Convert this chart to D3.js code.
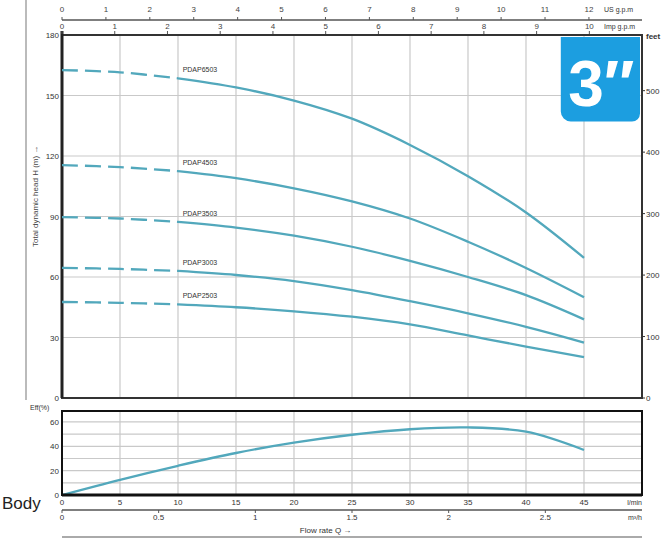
<!DOCTYPE html>
<html><head><meta charset="utf-8">
<script src="https://cdn.jsdelivr.net/npm/d3@7"></script>
<style>body{margin:0;background:#fff}svg{display:block}text{font-family:"Liberation Sans",Arial,sans-serif}</style>
</head><body>
<svg id="c" width="671" height="541"></svg>
<script>
// ---- data ----
const flow = [0, 5, 10, 15, 20, 25, 30, 35, 40, 45];           // l/min
const seriesNames = ["PDAP6503", "PDAP4503", "PDAP3503", "PDAP3003", "PDAP2503"];
const head1 = [162.6, 161.5, 158.5, 154, 147.5, 138.5, 125.5, 110, 92, 69.5];
const head2 = [115.5, 114.5, 112.5, 109, 104, 97.5, 89, 77.5, 64.5, 50];
const head3 = [89.7, 89, 87.3, 84.5, 80.5, 75, 68, 60, 51, 39];
const head4 = [64.5, 64, 63, 61, 58, 53.5, 48, 42, 35.3, 27.5];
const head5 = [47.6, 47.2, 46.4, 45, 43, 40.3, 36.5, 31, 25.5, 20.3];
const efficiency = [0, 12.5, 24, 34.5, 43, 49.5, 54, 55.5, 52, 37];  // %
const headTicks = [0, 30, 60, 90, 120, 150, 180];
const feetTicks = [0, 100, 200, 300, 400, 500];
const flowTicks = [0, 5, 10, 15, 20, 25, 30, 35, 40, 45];
const m3hTicks = [0, 0.5, 1, 1.5, 2, 2.5];
const usTicks = [0,1,2,3,4,5,6,7,8,9,10,11,12];
const impTicks = [0,1,2,3,4,5,6,7,8,9,10];
const effTicks = [0, 20, 40, 60];
const effGrid = [10, 20, 30, 40, 50, 60];
const dashedLimit = 10;

const heads = [head1, head2, head3, head4, head5];

// ---- layout ----
const svg = d3.select("#c");
const L = 62, R = 642, T = 35, B = 398;
const eT = 411, eB = 495;
const x = d3.scaleLinear().domain([0, 50]).range([L, R]);
const y = d3.scaleLinear().domain([0, 180]).range([B, T]);
const yFt = d3.scaleLinear().domain([0, 180 * 3.28084]).range([B, T]);
const xUS = d3.scaleLinear().domain([0, 50 / 3.78541]).range([L, R]);
const xImp = d3.scaleLinear().domain([0, 50 / 4.54609]).range([L, R]);
const xM3 = d3.scaleLinear().domain([0, 3]).range([L, R]);
const yE = d3.scaleLinear().domain([0, 69]).range([eB, eT]);

const grid = "#c9c9c9", curveCol = "#52a8bc", axisCol = "#333";
const fs = 8;

// left decorative line
svg.append("line").attr("x1", 26).attr("x2", 26).attr("y1", 0).attr("y2", 400)
  .attr("stroke", "#bbb").attr("stroke-width", 2);

// main grid
const g = svg.append("g");
g.selectAll(".vg").data(d3.range(5, 50, 5)).join("line")
  .attr("x1", d => x(d)).attr("x2", d => x(d)).attr("y1", T).attr("y2", B)
  .attr("stroke", grid).attr("stroke-width", 1.2);
g.selectAll(".hg").data(headTicks.slice(1, -1)).join("line")
  .attr("x1", L).attr("x2", R).attr("y1", d => y(d)).attr("y2", d => y(d))
  .attr("stroke", grid).attr("stroke-width", 1.2);

// badge
svg.append("path")
  .attr("d", `M${x(43)},${T+2} H${R-2} V${y(150)+18} a8,8 0 0 1 -8,8 H${x(43)+10} a10,10 0 0 1 -10,-10 Z`)
  .attr("fill", "#1c9ee0");
svg.append("text").attr("x", (x(43) + R) / 2).attr("y", y(150) + 10)
  .attr("text-anchor", "middle").attr("font-size", 64).attr("font-weight", "bold")
  .attr("fill", "#fff").attr("font-family", "Liberation Sans, Arial").text("3\u2033");

// frame
svg.append("rect").attr("x", L).attr("y", T).attr("width", R - L).attr("height", B - T)
  .attr("fill", "none").attr("stroke", axisCol).attr("stroke-width", 2);
svg.append("line").attr("x1", L).attr("x2", L).attr("y1", T - 4).attr("y2", B)
  .attr("stroke", "#222").attr("stroke-width", 3);

// left axis labels
svg.selectAll(".yl").data(headTicks).join("text")
  .attr("x", L - 3).attr("y", d => y(d) + 3).attr("text-anchor", "end")
  .attr("font-size", fs).attr("fill", "#333").text(d => d);
// right axis labels
svg.selectAll(".yr").data(feetTicks).join("text")
  .attr("x", R + 4).attr("y", d => yFt(d) + 3)
  .attr("font-size", fs).attr("fill", "#333").text(d => d);
svg.selectAll(".yrt").data(feetTicks).join("line")
  .attr("x1", R).attr("x2", R + 3).attr("y1", d => yFt(d)).attr("y2", d => yFt(d))
  .attr("stroke", axisCol);
svg.append("text").attr("x", R + 4).attr("y", T + 4).attr("font-size", fs)
  .attr("font-weight", "bold").attr("fill", "#333").text("feet");

// y axis title
svg.append("text").attr("transform", `translate(38,${y(100)}) rotate(-90)`)
  .attr("text-anchor", "middle").attr("font-size", 8).attr("fill", "#444")
  .text("Total dynamic head H (m) \u2192");

// top axes
svg.append("line").attr("x1", L).attr("x2", R).attr("y1", 20).attr("y2", 20)
  .attr("stroke", "#555").attr("stroke-width", 1.5);
svg.selectAll(".us").data(usTicks).join("text")
  .attr("x", d => xUS(d)).attr("y", 12).attr("text-anchor", "middle")
  .attr("font-size", fs).attr("fill", "#444").text(d => d);
svg.selectAll(".ust").data(usTicks).join("line")
  .attr("x1", d => xUS(d)).attr("x2", d => xUS(d)).attr("y1", 17).attr("y2", 20)
  .attr("stroke", "#555");
svg.selectAll(".imp").data(impTicks).join("text")
  .attr("x", d => xImp(d)).attr("y", 29).attr("text-anchor", "middle")
  .attr("font-size", fs).attr("fill", "#444").text(d => d);
svg.selectAll(".impt").data(impTicks).join("line")
  .attr("x1", d => xImp(d)).attr("x2", d => xImp(d)).attr("y1", 31).attr("y2", 34)
  .attr("stroke", "#555");
svg.append("text").attr("x", 604).attr("y", 12).attr("font-size", 7).attr("fill", "#333").text("US g.p.m");
svg.append("text").attr("x", 604).attr("y", 29).attr("font-size", 7).attr("fill", "#333").text("Imp g.p.m");

// curves
const line = d3.line().x(d => x(d[0])).y(d => y(d[1])).curve(d3.curveCatmullRom.alpha(0.5));
heads.forEach((h, i) => {
  const pts = flow.map((f, j) => [f, h[j]]);
  svg.append("path").attr("d", line(pts.filter(p => p[0] <= dashedLimit)))
    .attr("fill", "none").attr("stroke", curveCol).attr("stroke-width", 2.3)
    .attr("stroke-dasharray", "16,7");
  svg.append("path").attr("d", line(pts.filter(p => p[0] >= dashedLimit)))
    .attr("fill", "none").attr("stroke", curveCol).attr("stroke-width", 2.3);
  const lx = x(10.4), ly = y(h[2]) - 6;
  svg.append("text").attr("x", lx).attr("y", ly).attr("font-size", 7)
    .attr("fill", "#333").text(seriesNames[i]);
});

// efficiency chart
svg.selectAll(".eg").data(effGrid).join("line")
  .attr("x1", L).attr("x2", R).attr("y1", d => yE(d)).attr("y2", d => yE(d))
  .attr("stroke", grid).attr("stroke-width", 1.2);
svg.selectAll(".evg").data(d3.range(5, 50, 5)).join("line")
  .attr("x1", d => x(d)).attr("x2", d => x(d)).attr("y1", eT).attr("y2", eB)
  .attr("stroke", grid).attr("stroke-width", 1.2);
svg.append("path")
  .attr("d", d3.line().x((d, j) => x(flow[j])).y(d => yE(d)).curve(d3.curveCatmullRom.alpha(0.5))(efficiency))
  .attr("fill", "none").attr("stroke", curveCol).attr("stroke-width", 2.3);
svg.append("rect").attr("x", L).attr("y", eT).attr("width", R - L).attr("height", eB - eT)
  .attr("fill", "none").attr("stroke", "#111").attr("stroke-width", 2);
svg.append("line").attr("x1", L).attr("x2", R).attr("y1", eB).attr("y2", eB)
  .attr("stroke", "#111").attr("stroke-width", 3);
svg.selectAll(".el").data(effTicks).join("text")
  .attr("x", L - 3).attr("y", d => yE(d) + 3).attr("text-anchor", "end")
  .attr("font-size", fs).attr("fill", "#333").text(d => d);
svg.append("text").attr("x", 30).attr("y", eT - 1).attr("font-size", 7).attr("fill", "#333").text("Eff(%)");

// flow axes
svg.selectAll(".fl").data(flowTicks).join("text")
  .attr("x", d => x(d)).attr("y", 505).attr("text-anchor", "middle")
  .attr("font-size", fs).attr("fill", "#333").text(d => d);
svg.append("text").attr("x", R).attr("y", 505).attr("text-anchor", "end")
  .attr("font-size", 7).attr("fill", "#333").text("l/min");
svg.append("line").attr("x1", L).attr("x2", R).attr("y1", 510).attr("y2", 510)
  .attr("stroke", "#555").attr("stroke-width", 1.5);
svg.selectAll(".m3t").data(m3hTicks).join("line")
  .attr("x1", d => xM3(d)).attr("x2", d => xM3(d)).attr("y1", 510).attr("y2", 513)
  .attr("stroke", "#555");
svg.selectAll(".m3").data(m3hTicks).join("text")
  .attr("x", d => xM3(d)).attr("y", 520).attr("text-anchor", "middle")
  .attr("font-size", fs).attr("fill", "#333").text(d => d);
svg.append("text").attr("x", R).attr("y", 520).attr("text-anchor", "end")
  .attr("font-size", 7).attr("fill", "#333").text("m\u00b3/h");
svg.append("text").attr("x", x(20.5)).attr("y", 533)
  .attr("font-size", 8).attr("fill", "#333").text("Flow rate  Q  \u2192");
svg.append("line").attr("x1", L).attr("x2", R).attr("y1", 537).attr("y2", 537)
  .attr("stroke", "#aaa").attr("stroke-width", 2);

svg.append("text").attr("x", 2).attr("y", 509).attr("font-size", 17)
  .attr("fill", "#222").text("Body");
</script>
</body></html>
